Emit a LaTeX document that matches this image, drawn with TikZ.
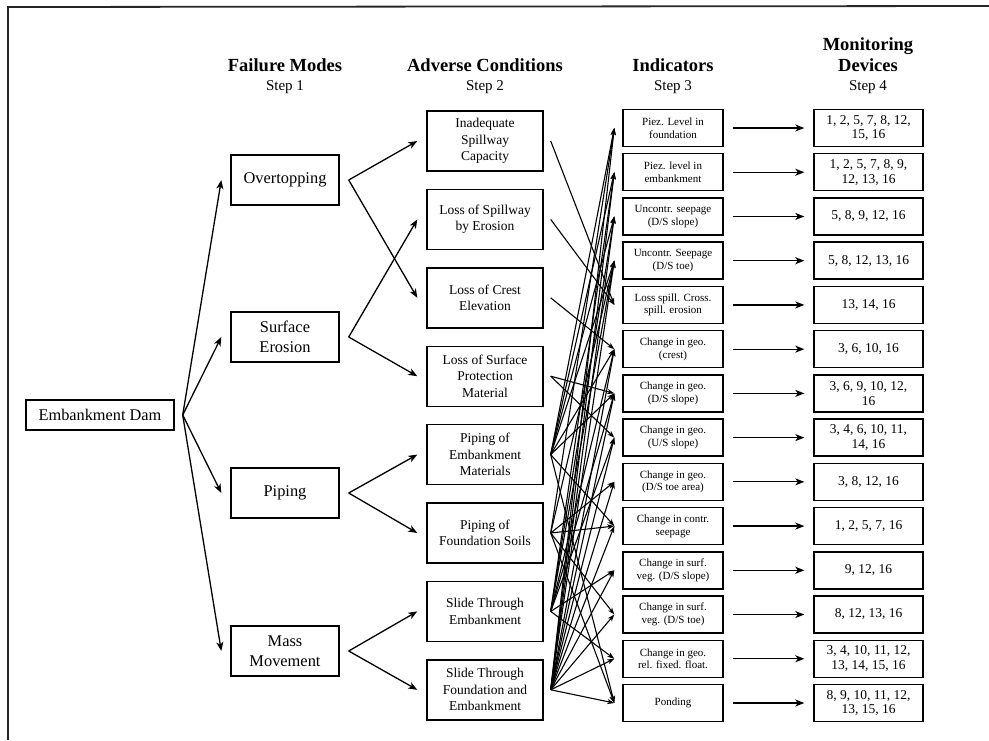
\documentclass[tikz,border=0pt]{standalone}
\usepackage{fontspec}
\setmainfont{Liberation Serif}
\usetikzlibrary{arrows.meta}

\tikzset{
  box/.style={draw,line width=1.4pt,align=center,inner sep=2pt},
  fmbox/.style={box,minimum width=108pt,minimum height=50pt,font=\fontsize{16.4}{19.5}\selectfont},
  advbox/.style={box,minimum width=116pt,minimum height=60pt,font=\fontsize{13.5}{16.5}\selectfont},
  indbox/.style={box,minimum width=100pt,minimum height=37pt,font=\fontsize{11}{12.7}\selectfont},
  devbox/.style={box,minimum width=109pt,minimum height=37pt,font=\fontsize{13.5}{14.7}\selectfont},
  head/.style={anchor=base,font=\bfseries\fontsize{18.5}{21}\selectfont},
  stepno/.style={anchor=base,font=\fontsize{15}{18}\selectfont},
  arr/.style={-{Stealth[length=9pt,width=7pt,inset=2.5pt]},line width=1.3pt},
  link/.style={-{Stealth[length=7pt,width=5pt,inset=2pt]},line width=1.1pt},
}

\begin{document}
\begin{tikzpicture}[x=1pt,y=-1pt]
  \useasboundingbox (0,0) rectangle (989,740);
  \draw[line width=1.8pt,black!85] (989,6)--(8,7)--(8,740); % frame

  % headings
  \node[head] (h1) at (285,71) {Failure Modes};
  \node[head] (h2) at (485,71) {Adverse Conditions};
  \node[head] (h3) at (673,71) {Indicators};
  \node[head] (h4a) at (868,50) {Monitoring};
  \node[head] (h4) at (868,71) {Devices};
  \foreach \x/\n in {285/1,485/2,673/3,868/4}
    \node[stepno] (s\n) at (\x,90) {Step \n};

  \node[box,minimum width=148pt,minimum height=30pt,font=\fontsize{16.3}{19}\selectfont] (dam) at (100,415) {Embankment Dam};

  % step 1
  \foreach \i/\y/\txt in {1/180/Overtopping,2/337/{Surface\\Erosion},3/493/Piping,4/651/{Mass\\Movement}}
    \node[fmbox] (fm\i) at (285,\y) {\txt};

  % step 2
  \foreach \i/\txt in {1/{Inadequate\\Spillway\\Capacity},2/{Loss of Spillway\\by Erosion},3/{Loss of Crest\\Elevation},
      4/{Loss of Surface\\Protection\\Material},5/{Piping of\\Embankment\\Materials},6/{Piping of\\Foundation Soils},
      7/{Slide Through\\Embankment},8/{Slide Through\\Foundation and\\Embankment}}
    \node[advbox] (adv\i) at (485,{141+(\i-1)*78.4}) {\txt};

  % step 3 and step 4
  \foreach \i/\txt/\dev in {1/{Piez. Level in\\foundation}/{1, 2, 5, 7, 8, 12,\\15, 16},
      2/{Piez. level in\\embankment}/{1, 2, 5, 7, 8, 9,\\12, 13, 16},
      3/{Uncontr. seepage\\(D/S slope)}/{5, 8, 9, 12, 16},
      4/{Uncontr. Seepage\\(D/S toe)}/{5, 8, 12, 13, 16},
      5/{Loss spill. Cross.\\spill. erosion}/{13, 14, 16},
      6/{Change in geo.\\(crest)}/{3, 6, 10, 16},
      7/{Change in geo.\\(D/S slope)}/{3, 6, 9, 10, 12,\\16},
      8/{Change in geo.\\(U/S slope)}/{3, 4, 6, 10, 11,\\14, 16},
      9/{Change in geo.\\(D/S toe area)}/{3, 8, 12, 16},
      10/{Change in contr.\\seepage}/{1, 2, 5, 7, 16},
      11/{Change in surf.\\veg. (D/S slope)}/{9, 12, 16},
      12/{Change in surf.\\veg. (D/S toe)}/{8, 12, 13, 16},
      13/{Change in geo.\\rel. fixed. float.}/{3, 4, 10, 11, 12,\\13, 14, 15, 16},
      14/{Ponding}/{8, 9, 10, 11, 12,\\13, 15, 16}}{
    \node[indbox] (ind\i) at (673,{128+(\i-1)*44.23}) {\txt};
    \node[devbox] (dev\i) at (868.5,{128+(\i-1)*44.23}) {\dev};
    \draw[arr,shorten <=9pt,shorten >=9pt] (ind\i) -- (dev\i);
  }

  % ends of the arrows
  \coordinate (damo) at ([xshift=8pt]dam.east);
  \foreach \i in {1,...,4}{
    \coordinate (fmi\i) at ([xshift=-9pt]fm\i.west);
    \coordinate (fmo\i) at ([xshift=9pt]fm\i.east);
  }
  \foreach \i in {1,...,8}{
    \coordinate (advi\i) at ([xshift=-9pt]adv\i.west);
    \coordinate (advo\i) at ([xshift=7pt]adv\i.east);
  }
  \foreach \i in {1,...,14}
    \coordinate (indi\i) at ([xshift=-8pt]ind\i.west);

  \foreach \i in {1,...,4} \draw[arr] (damo) -- (fmi\i);
  \foreach \a/\b in {1/1,1/3,2/2,2/4,3/5,3/6,4/7,4/8} \draw[arr] (fmo\a) -- (advi\b);
  \foreach \a/\b in {1/5,2/5,3/6,4/7,4/8,
      5/1,5/2,5/3,5/4,5/6,5/7,5/10,5/14,
      6/1,6/4,6/9,6/10,6/12,6/14,
      7/2,7/3,7/4,7/6,7/7,7/8,7/11,7/13,
      8/1,8/2,8/3,8/4,8/6,8/7,8/8,8/9,8/10,8/11,8/12,8/13,8/14}
    \draw[link] (advo\a) -- (indi\b);
\end{tikzpicture}
\end{document}
